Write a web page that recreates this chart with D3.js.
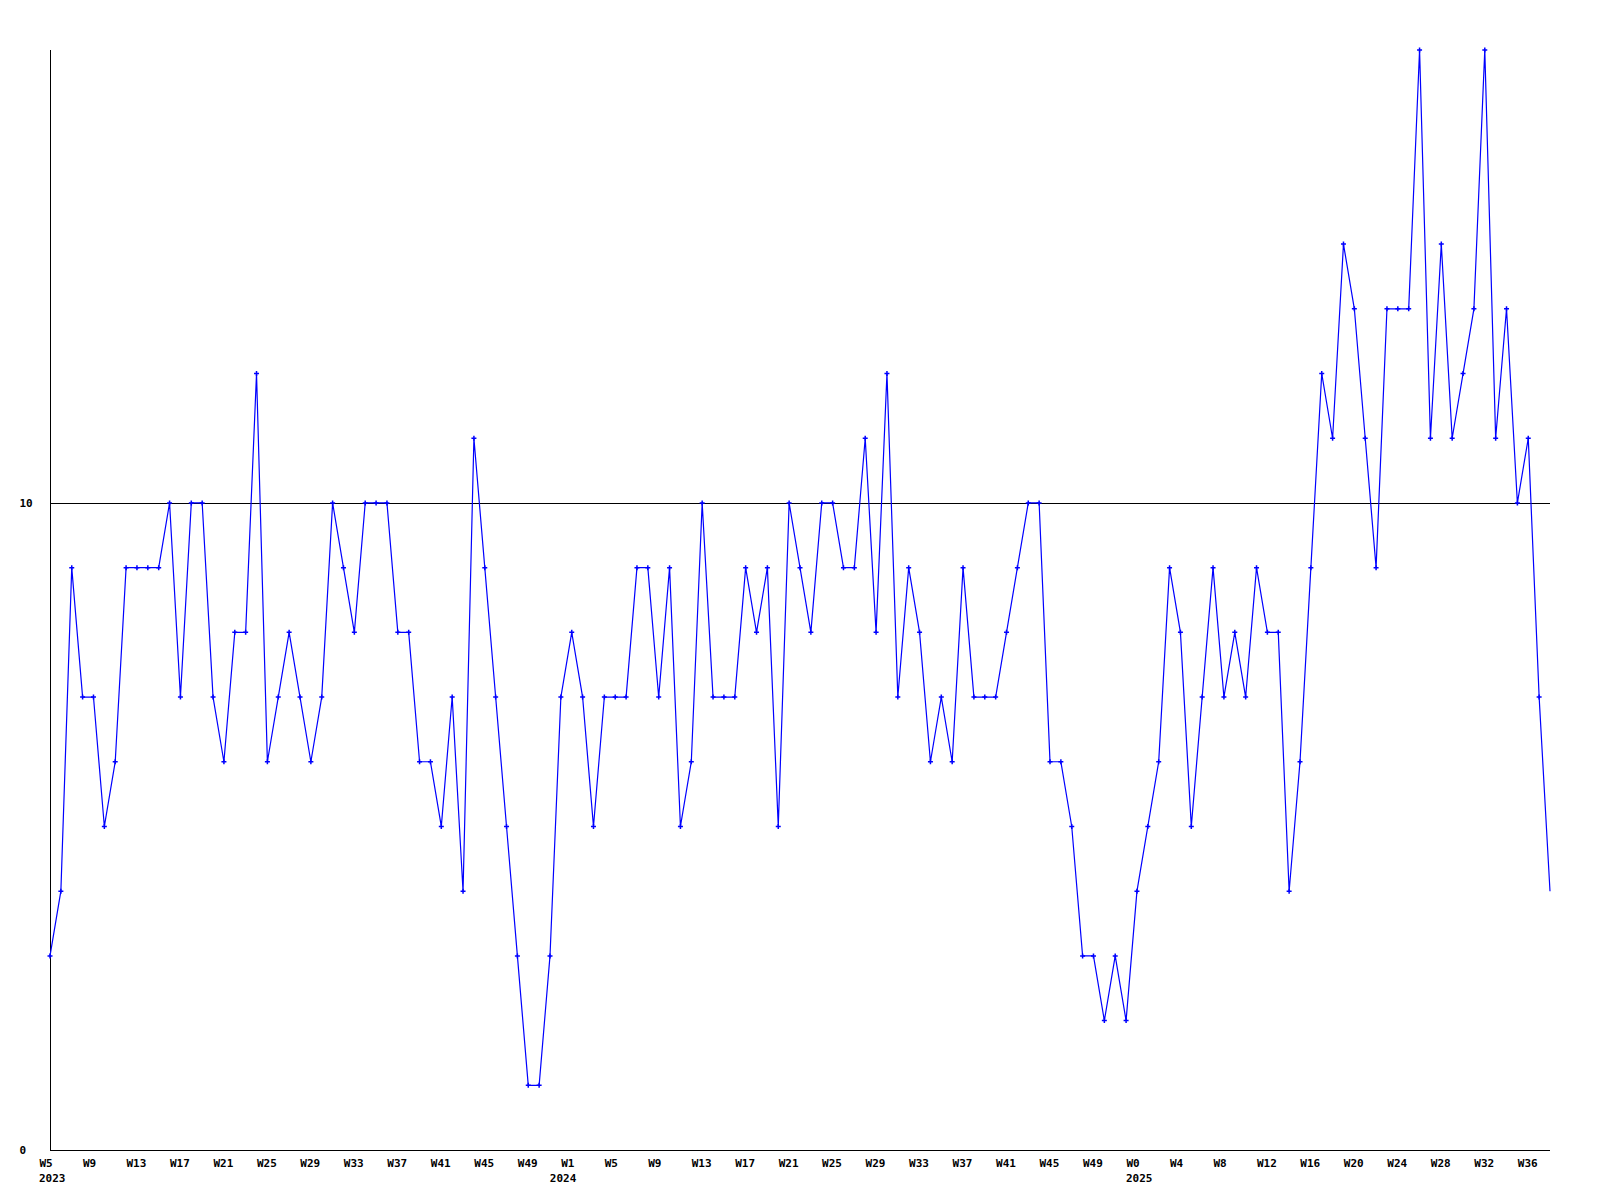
<!DOCTYPE html>
<html>
<head>
<meta charset="utf-8">
<script src="https://cdn.jsdelivr.net/npm/d3@7"></script>
<style>
  html, body { margin: 0; padding: 0; background: #ffffff; }
  svg { display: block; }
  text { font-family: "DejaVu Sans Mono", "Liberation Mono", monospace; font-weight: bold; font-size: 11px; fill: #000; }
</style>
</head>
<body>
<svg id="chart" width="1600" height="1200"></svg>
<script>
// ---- data ----
const years = [2023, 2024, 2025];
const yearLabelAt = [0, 47, 100];    // point index under which each year label is written
const weeks2023 = d3.range(5, 53);   // W5 .. W52
const weeks2024 = d3.range(1, 53);   // W1 .. W52
const weeks2025 = d3.range(0, 39);   // W0 .. W38
const values2023 = [3,4,9,7,7,5,6,9,9,9,9,10,7,10,10,7,6,8,8,12,6,7,8,7,6,7,10,9,8,10,10,10,8,8,6,6,5,7,4,11,9,7,5,3,1,1,3,7];
const values2024 = [8,7,5,7,7,7,9,9,7,9,5,6,10,7,7,7,9,8,9,5,10,9,8,10,10,9,9,11,8,12,7,9,8,6,7,6,9,7,7,7,8,9,10,10,6,6,5,3,3,2,3,2];
const values2025 = [4,5,6,9,8,5,7,9,7,8,7,9,8,8,4,6,9,12,11,14,13,11,9,13,13,13,17,11,14,11,12,13,17,11,13,10,11,7,4];
const yTicks = [0, 10];
const referenceValue = 10;
const yMax = 17;
const labelEvery = 4;

(function () {
// ---- build series ----
const weekSets = [weeks2023, weeks2024, weeks2025];
const valueSets = [values2023, values2024, values2025];
const data = [];
weekSets.forEach((ws, k) => ws.forEach((w, j) => data.push({ year: years[k], week: w, value: valueSets[k][j] })));
data.forEach((d, i) => d.i = i);

const svg = d3.select("#chart");
const mLeft = 50, mRight = 1550, mTop = 50, mBottom = 1150;

const x = d3.scaleLinear().domain([0, data.length - 1]).range([mLeft, mRight]);
const y = d3.scaleLinear().domain([0, yMax]).range([mBottom, mTop]);

svg.append("rect").attr("width", 1600).attr("height", 1200).attr("fill", "#fff");

// reference line at 10
svg.append("line")
  .attr("x1", mLeft).attr("x2", mRight)
  .attr("y1", Math.round(y(referenceValue)) + 0.5).attr("y2", Math.round(y(referenceValue)) + 0.5)
  .attr("stroke", "#000").attr("stroke-width", 1).attr("shape-rendering", "crispEdges");

// y axis
const yAxis = svg.append("g").attr("transform", `translate(${mLeft + 0.5},0)`)
  .call(d3.axisLeft(y).tickValues(yTicks).tickSize(0).tickFormat(d3.format("d")));
yAxis.select(".domain").attr("d", `M0,${mTop}V${mBottom}`).attr("stroke", "#000").attr("shape-rendering", "crispEdges");
yAxis.selectAll("text")
  .attr("x", 19.5 - (mLeft + 0.5)).attr("dy", "0.35em")
  .attr("text-anchor", "start")
  .attr("fill", "#000")
  .style("font-family", "'DejaVu Sans Mono', monospace").style("font-size", "11px").style("font-weight", "bold");

// x axis
const tickIdx = data.filter(d => d.i % labelEvery === 0).map(d => d.i);
const xAxis = svg.append("g").attr("transform", `translate(0,${mBottom + 0.5})`)
  .call(d3.axisBottom(x).tickValues(tickIdx).tickSize(0).tickFormat(i => "W" + data[i].week));
xAxis.select(".domain").attr("d", `M${mLeft},0H${mRight}`).attr("stroke", "#000").attr("shape-rendering", "crispEdges");
xAxis.selectAll("text")
  .attr("text-anchor", "start").attr("x", -11).attr("y", 16).attr("dy", 0)
  .attr("fill", "#000")
  .style("font-family", "'DejaVu Sans Mono', monospace").style("font-size", "11px").style("font-weight", "bold");

// year labels
svg.append("g").selectAll("text")
  .data(years.map((yr, k) => ({ year: yr, i: yearLabelAt[k] })))
  .join("text")
  .attr("x", d => x(d.i) - 11)
  .attr("y", mBottom + 32)
  .attr("text-anchor", "start")
  .text(d => d.year);

// data line
const line = d3.line().x(d => x(d.i)).y(d => y(d.value));
svg.append("path")
  .datum(data)
  .attr("d", line)
  .attr("fill", "none")
  .attr("stroke", "#0000ff")
  .attr("stroke-width", 1.2)
  .attr("stroke-linejoin", "miter");

// markers (plus signs), none on the last point
svg.append("g").selectAll("path")
  .data(data.slice(0, data.length - 1))
  .join("path")
  .attr("d", d => {
    const cx = x(d.i), cy = y(d.value), s = 2.5;
    return `M${cx - s},${cy}H${cx + s}M${cx},${cy - s}V${cy + s}`;
  })
  .attr("stroke", "#0000ff")
  .attr("stroke-width", 1.5)
  .attr("fill", "none");
})();
</script>
</body>
</html>
